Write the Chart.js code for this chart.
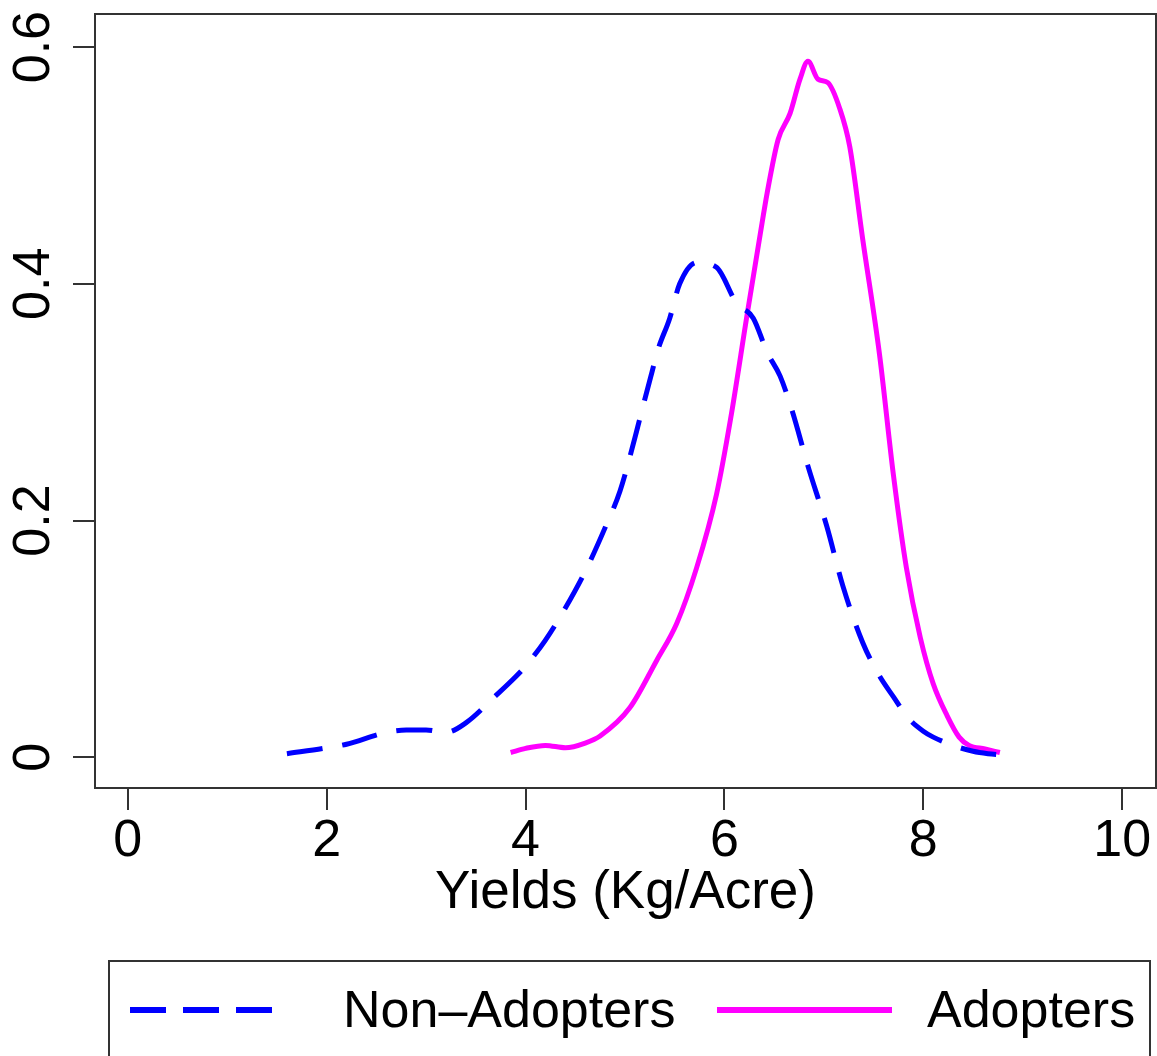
<!DOCTYPE html>
<html>
<head>
<meta charset="utf-8">
<script src="https://cdn.jsdelivr.net/npm/chart.js@4.4.1/dist/chart.umd.min.js"></script>
<style>
  html, body { margin: 0; padding: 0; background: #fff; }
  #wrap { width: 1157px; height: 1056px; position: relative; }
</style>
</head>
<body>
<div id="wrap"><canvas id="densityChart"></canvas></div>
<script>
// Density estimates
const nonAdoptX = [1.6, 2.0, 2.2, 2.6, 2.8, 3.0, 3.2, 3.4, 3.7, 3.9, 4.0, 4.2, 4.4, 4.6, 4.8, 4.95, 5.1, 5.17, 5.27, 5.33, 5.45, 5.55, 5.72, 5.92, 6.12, 6.29, 6.43, 6.56, 6.68, 6.84, 7.03, 7.19, 7.39, 7.55, 7.7, 7.85, 8.0, 8.1, 8.3, 8.5, 8.65, 8.8];
const nonAdoptY = [0.003, 0.008, 0.011, 0.021, 0.023, 0.023, 0.021, 0.029, 0.052, 0.068, 0.077, 0.099, 0.126, 0.157, 0.194, 0.225, 0.27, 0.293, 0.325, 0.344, 0.371, 0.4, 0.418, 0.414, 0.384, 0.371, 0.342, 0.322, 0.293, 0.246, 0.195, 0.145, 0.097, 0.07, 0.051, 0.033, 0.022, 0.017, 0.01, 0.005, 0.003, 0.002];

const adoptX = [3.85, 4.0, 4.2, 4.4, 4.6, 4.75, 5.05, 5.32, 5.52, 5.72, 5.92, 6.06, 6.23, 6.36, 6.43, 6.54, 6.66, 6.76, 6.84, 6.94, 7.04, 7.16, 7.26, 7.39, 7.56, 7.7, 7.83, 7.97, 8.1, 8.24, 8.36, 8.46, 8.62, 8.77];
const adoptY = [0.004, 0.0075, 0.01, 0.008, 0.012, 0.018, 0.042, 0.082, 0.113, 0.16, 0.222, 0.285, 0.375, 0.442, 0.477, 0.522, 0.544, 0.573, 0.588, 0.573, 0.57, 0.548, 0.516, 0.438, 0.34, 0.238, 0.16, 0.101, 0.062, 0.035, 0.017, 0.01, 0.007, 0.004];

const xTicks = [0, 2, 4, 6, 8, 10];
const yTicks = [0, 0.2, 0.4, 0.6];
const seriesNames = ["Non\u2013Adopters", "Adopters"];

const FONT = "'Liberation Sans', Arial, Helvetica, sans-serif";
const AXIS_COLOR = "#333333";

function toPoints(xs, ys) {
  return xs.map((x, i) => ({ x: x, y: ys[i] }));
}

// Plot frame + legend box below, in the style of base R graphics
const framePlugin = {
  id: "frame",
  afterDraw(chart) {
    const { ctx, chartArea } = chart;
    ctx.save();
    ctx.strokeStyle = AXIS_COLOR;
    ctx.lineWidth = 2;
    ctx.strokeRect(chartArea.left, chartArea.top,
      chartArea.right - chartArea.left, chartArea.bottom - chartArea.top);

    // legend
    ctx.strokeRect(109, 961, 1041, 200);
    ctx.lineWidth = 6;
    ctx.strokeStyle = chart.data.datasets[0].borderColor;
    ctx.setLineDash([36, 17]);
    ctx.beginPath();
    ctx.moveTo(130, 1010);
    ctx.lineTo(273, 1010);
    ctx.stroke();
    ctx.setLineDash([]);
    ctx.strokeStyle = chart.data.datasets[1].borderColor;
    ctx.beginPath();
    ctx.moveTo(717, 1010);
    ctx.lineTo(892, 1010);
    ctx.stroke();

    ctx.fillStyle = "#000";
    ctx.font = "52px " + FONT;
    ctx.textBaseline = "alphabetic";
    ctx.textAlign = "left";
    ctx.fillText(seriesNames[0], 343, 1027);
    ctx.fillText(seriesNames[1], 927, 1027);
    ctx.restore();
  },
};

const ctx = document.getElementById("densityChart").getContext("2d");
const densityChart = new Chart(ctx, {
  type: "line",
  data: {
    datasets: [
      {
        label: seriesNames[0],
        data: toPoints(nonAdoptX, nonAdoptY),
        borderColor: "#0000ff",
        borderWidth: 5,
        borderDash: [36, 20],
        pointRadius: 0,
        fill: false,
        cubicInterpolationMode: "monotone",
      },
      {
        label: seriesNames[1],
        data: toPoints(adoptX, adoptY),
        borderColor: "#ff00ff",
        borderWidth: 5,
        pointRadius: 0,
        fill: false,
        cubicInterpolationMode: "monotone",
      },
    ],
  },
  options: {
    responsive: true,
    maintainAspectRatio: false,
    animation: false,
    layout: { padding: { top: 14, right: 1, left: 0, bottom: 118 } },
    plugins: {
      legend: { display: false },
      tooltip: { enabled: false },
    },
    scales: {
      x: {
        type: "linear",
        min: -0.33,
        max: 10.34,
        afterBuildTicks: (axis) => {
          axis.ticks = xTicks.map((v) => ({ value: v }));
        },
        afterFit: (axis) => {
          axis.height = 150;
          axis.paddingLeft = 0;
          axis.paddingRight = 0;
        },
        border: { display: false },
        grid: {
          drawOnChartArea: false,
          drawTicks: true,
          tickLength: 22,
          color: AXIS_COLOR,
          lineWidth: 2,
        },
        ticks: {
          autoSkip: false,
          maxRotation: 0,
          padding: 0,
          color: "#000",
          font: { family: FONT, size: 52 },
        },
        title: {
          display: true,
          text: "Yields (Kg/Acre)",
          color: "#000",
          font: { family: FONT, size: 53 },
          padding: { top: 0, bottom: 13 },
        },
      },
      y: {
        min: -0.026,
        max: 0.628,
        afterBuildTicks: (axis) => {
          axis.ticks = yTicks.map((v) => ({ value: v }));
        },
        afterFit: (axis) => {
          axis.width = 95;
          axis.paddingTop = 0;
          axis.paddingBottom = 0;
        },
        border: { display: false },
        grid: {
          drawOnChartArea: false,
          drawTicks: true,
          tickLength: 22,
          color: AXIS_COLOR,
          lineWidth: 2,
        },
        ticks: {
          autoSkip: false,
          minRotation: 90,
          maxRotation: 90,
          crossAlign: "center",
          padding: 2,
          color: "#000",
          font: { family: FONT, size: 52 },
          callback: (v) => (v === 0 ? "0" : v.toFixed(1)),
        },
      },
    },
  },
  plugins: [framePlugin],
});
</script>
</body>
</html>
